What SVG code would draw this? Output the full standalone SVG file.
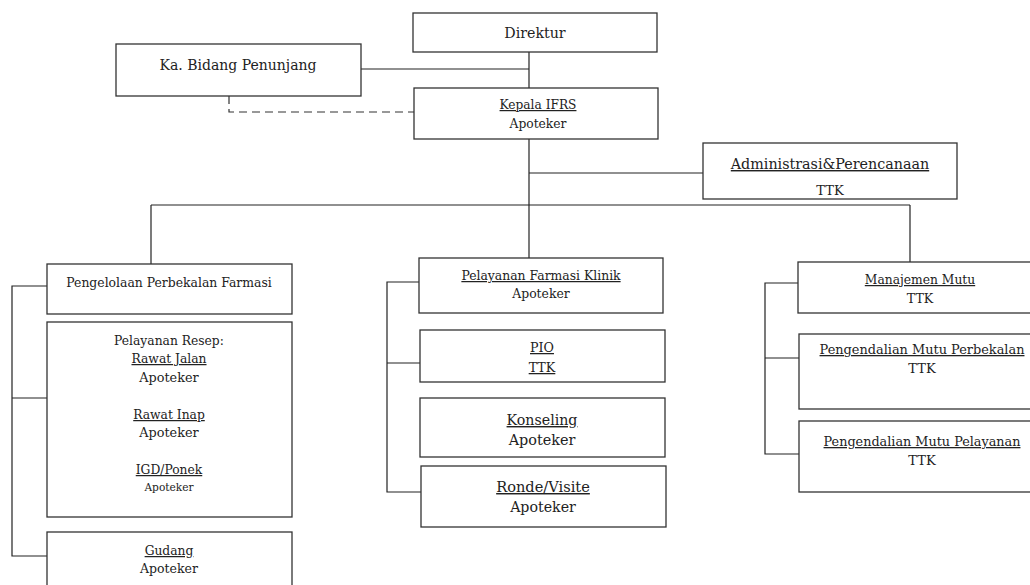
<svg xmlns="http://www.w3.org/2000/svg" width="1030" height="585" viewBox="0 0 1030 585">
<style>
.box{fill:#fff;stroke:#333;stroke-width:1.3}
.ln{fill:none;stroke:#222;stroke-width:1.2}
.dash{fill:none;stroke:#333;stroke-width:1.2;stroke-dasharray:8 5}
text{font-family:"DejaVu Serif","Liberation Serif",serif;fill:#222;text-anchor:middle}
.u{text-decoration:underline}
</style>
<rect width="1030" height="585" fill="#fff"/>
<g id="connectors">
<path class="ln" d="M529,52V88"/>
<path class="ln" d="M361,69H529"/>
<path class="dash" d="M229,96V112H414"/>
<path class="ln" d="M529,139V205"/>
<path class="ln" d="M529,173H703"/>
<path class="ln" d="M151,205H910"/>
<path class="ln" d="M151,205V264"/>
<path class="ln" d="M529,205V258"/>
<path class="ln" d="M910,205V262"/>
<path class="ln" d="M47,286H12V556H47M12,398H47"/>
<path class="ln" d="M419,282H387V492H421M387,363H420"/>
<path class="ln" d="M798,283H765V454H799M765,358H799"/>
</g>
<g id="direktur"><rect class="box" x="413" y="13" width="244" height="39"/><text x="535" y="38" font-size="14.2">Direktur</text></g>
<g id="ka-bidang"><rect class="box" x="116" y="44" width="245" height="52"/><text x="238" y="70" font-size="14">Ka. Bidang Penunjang</text></g>
<g id="kepala-ifrs"><rect class="box" x="414" y="88" width="244" height="51"/><text class="u" x="538" y="109" font-size="12.2">Kepala IFRS</text><text x="538" y="127.5" font-size="12.3">Apoteker</text></g>
<g id="administrasi"><rect class="box" x="703" y="143" width="254" height="56"/><text class="u" x="830" y="169" font-size="14.3">Administrasi&amp;Perencanaan</text><text x="830" y="195" font-size="13">TTK</text></g>
<g id="pengelolaan"><rect class="box" x="47" y="264" width="245" height="50"/><text x="169" y="287" font-size="12.4">Pengelolaan Perbekalan Farmasi</text></g>
<g id="pelayanan-resep"><rect class="box" x="47" y="322" width="245" height="195"/>
<text x="169" y="345" font-size="12.3">Pelayanan Resep:</text>
<text class="u" x="169" y="363" font-size="12.3">Rawat Jalan</text>
<text x="169" y="382" font-size="12.8">Apoteker</text>
<text class="u" x="169" y="419" font-size="12.3">Rawat Inap</text>
<text x="169" y="437" font-size="12.8">Apoteker</text>
<text class="u" x="169" y="474" font-size="12.3">IGD/Ponek</text>
<text x="169" y="491" font-size="10.6">Apoteker</text></g>
<g id="gudang"><rect class="box" x="47" y="532" width="245" height="60"/><text class="u" x="169" y="555" font-size="12.3">Gudang</text><text x="169" y="573" font-size="12.5">Apoteker</text></g>
<g id="farmasi-klinik"><rect class="box" x="419" y="258" width="244" height="55"/><text class="u" x="541" y="280" font-size="12.4">Pelayanan Farmasi Klinik</text><text x="541" y="298" font-size="12.4">Apoteker</text></g>
<g id="pio"><rect class="box" x="420" y="330" width="245" height="52"/><text class="u" x="542" y="352" font-size="12.7">PIO</text><text class="u" x="542" y="372" font-size="12.7">TTK</text></g>
<g id="konseling"><rect class="box" x="420" y="398" width="245" height="59"/><text class="u" x="542" y="425" font-size="14.2">Konseling</text><text x="542" y="445" font-size="14.4">Apoteker</text></g>
<g id="ronde-visite"><rect class="box" x="421" y="466" width="245" height="61"/><text class="u" x="543" y="492" font-size="14.6">Ronde/Visite</text><text x="543" y="512" font-size="14.2">Apoteker</text></g>
<g id="manajemen-mutu"><rect class="box" x="798" y="262" width="245" height="51"/><text class="u" x="920" y="284" font-size="12.3">Manajemen Mutu</text><text x="920" y="303" font-size="12.6">TTK</text></g>
<g id="mutu-perbekalan"><rect class="box" x="799" y="334" width="245" height="75"/><text class="u" x="922" y="354" font-size="12.9">Pengendalian Mutu Perbekalan</text><text x="922" y="373" font-size="13">TTK</text></g>
<g id="mutu-pelayanan"><rect class="box" x="799" y="421" width="245" height="71"/><text class="u" x="922" y="446" font-size="12.8">Pengendalian Mutu Pelayanan</text><text x="922" y="465" font-size="13">TTK</text></g>
</svg>
